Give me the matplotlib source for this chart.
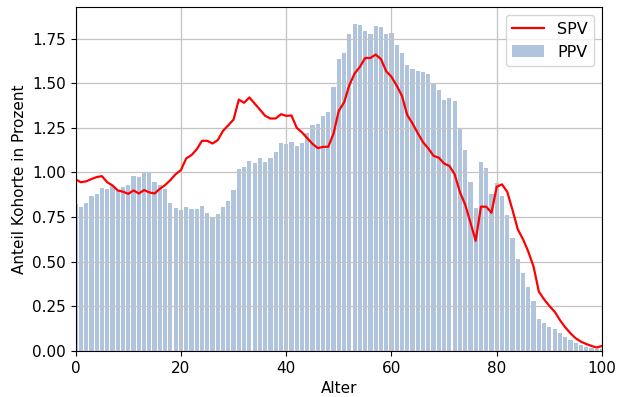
import numpy as np
import matplotlib
matplotlib.use("Agg")
import matplotlib.pyplot as plt

alter = np.arange(0, 101)

# PPV: Anteil je Altersjahr (Balken)
ppv = [0.821, 0.808, 0.826, 0.869, 0.880, 0.914, 0.908, 0.923, 0.897, 0.916,
       0.927, 0.981, 0.975, 0.994, 1.004, 0.944, 0.930, 0.905, 0.830, 0.800,
       0.789, 0.804, 0.797, 0.797, 0.813, 0.774, 0.750, 0.768, 0.804, 0.838,
       0.899, 1.020, 1.028, 1.063, 1.050, 1.080, 1.056, 1.082, 1.117, 1.162,
       1.158, 1.173, 1.147, 1.166, 1.218, 1.268, 1.272, 1.315, 1.338, 1.476,
       1.636, 1.670, 1.774, 1.834, 1.826, 1.790, 1.774, 1.820, 1.815, 1.777,
       1.782, 1.716, 1.669, 1.600, 1.580, 1.567, 1.560, 1.551, 1.502, 1.461,
       1.408, 1.415, 1.398, 1.250, 1.125, 0.948, 0.798, 1.061, 1.026, 0.878,
       0.943, 0.869, 0.761, 0.634, 0.517, 0.435, 0.356, 0.280, 0.181, 0.155,
       0.136, 0.121, 0.099, 0.080, 0.062, 0.047, 0.032, 0.024, 0.017, 0.013,
       0.010]

# SPV: Anteil je Altersjahr (Linie)
spv = [0.961, 0.945, 0.950, 0.963, 0.974, 0.979, 0.945, 0.927, 0.899, 0.892,
       0.880, 0.899, 0.882, 0.901, 0.888, 0.882, 0.908, 0.929, 0.957, 0.990,
       1.013, 1.078, 1.097, 1.129, 1.177, 1.177, 1.162, 1.181, 1.233, 1.264,
       1.296, 1.408, 1.390, 1.420, 1.386, 1.352, 1.317, 1.302, 1.302, 1.326,
       1.317, 1.319, 1.250, 1.224, 1.192, 1.160, 1.136, 1.143, 1.144, 1.218,
       1.346, 1.392, 1.489, 1.554, 1.591, 1.641, 1.641, 1.660, 1.635, 1.567,
       1.535, 1.486, 1.428, 1.321, 1.274, 1.220, 1.169, 1.134, 1.093, 1.082,
       1.050, 1.036, 0.990, 0.890, 0.820, 0.720, 0.617, 0.808, 0.808, 0.774,
       0.920, 0.933, 0.891, 0.789, 0.681, 0.625, 0.556, 0.472, 0.332, 0.289,
       0.252, 0.220, 0.173, 0.133, 0.099, 0.071, 0.052, 0.039, 0.028, 0.019,
       0.028]

plt.rcParams["font.size"] = 11

fig, ax = plt.subplots(figsize=(6.2, 3.97), dpi=100)

ax.bar(alter, ppv, width=0.8, color="lightsteelblue", label="PPV")
ax.plot(alter, spv, color="red", lw=1.6, label="SPV")

ax.set_xlim(0, 100)
ax.set_xlabel("Alter")
ax.set_ylabel("Anteil Kohorte in Prozent")
ax.grid(True, color="#c4c4c4", lw=0.9)
ax.legend(loc="upper right", fontsize=11.5)

plt.subplots_adjust(left=0.122, right=0.971, bottom=0.116, top=0.982)
fig.savefig("out.png", dpi=100)
